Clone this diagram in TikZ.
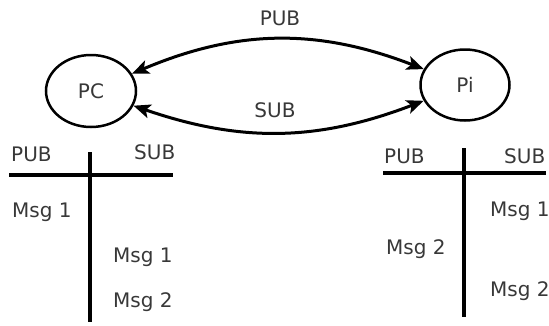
\documentclass[tikz,border=0pt]{standalone}
\usepackage{fontspec}
\setmainfont{DejaVu Sans}
\usetikzlibrary{arrows.meta,shapes.geometric,positioning}

\begin{document}
\begin{tikzpicture}[x=1pt,y=-1pt,
    txt/.style={text=black!78,font=\fontsize{20}{23}\selectfont,inner sep=0pt},
    host/.style={txt,ellipse,draw=black,line width=2.5pt,minimum width=90pt,minimum height=72pt},
    tip/.tip={Stealth[length=17pt,width=14pt,inset=4pt]},
    link/.style={line width=3pt,tip-tip},
    bar/.style={line width=3.5pt}]
    \useasboundingbox (0,0) rectangle (549,325);
    \node[host] (pc) at (91,91) {PC};
    \node[host,minimum width=89pt,minimum height=71pt] (pi) at (465,85) {Pi};
    \draw[link]
    (pc) edge[bend left=22] (pi)
    (pc) edge[bend right=20] (pi);
    \node[txt,anchor=base] (pub) at (280,25) {PUB};
    \node[txt,anchor=base] (sub) at (275,117) {SUB};

    % queue on the PC side
    \draw[bar] (9,175) -- (173,175);
    \draw[bar] (90,152) -- (90,322);
    \node[txt,anchor=base west] (pc-pub) at (11,161) {PUB};
    \node[txt,anchor=base west] (pc-sub) at (134,159) {SUB};
    \node[txt,anchor=base west] (pc-1-1) at (12,217) {Msg 1};
    \node[txt,anchor=base west] (pc-2-1) at (113,262) {Msg 1};
    \node[txt,anchor=base west] (pc-2-2) at (113,307) {Msg 2};

    % queue on the Pi side
    \draw[bar] (383,173) -- (546,173);
    \draw[bar] (464,148) -- (464,317);
    \node[txt,anchor=base west] (pi-pub) at (384,163) {PUB};
    \node[txt,anchor=base west] (pi-sub) at (504,163) {SUB};
    \node[txt,anchor=base west] (pi-2-1) at (490,216) {Msg 1};
    \node[txt,anchor=base west] (pi-1-2) at (386,254) {Msg 2};
    \node[txt,anchor=base west] (pi-2-2) at (490,296) {Msg 2};
  \end{tikzpicture}
\end{document}
